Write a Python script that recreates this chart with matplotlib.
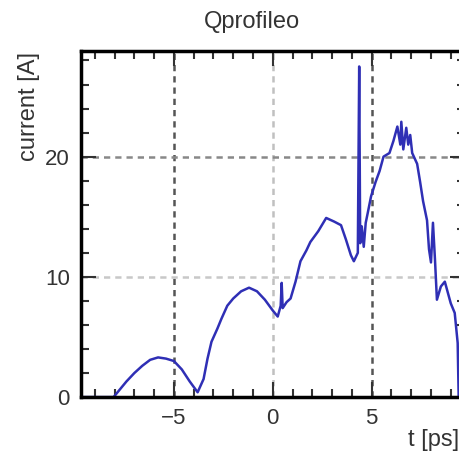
import numpy as np
import matplotlib
matplotlib.use("Agg")
import matplotlib.pyplot as plt
from matplotlib.ticker import MultipleLocator

# current profile, t in ps, current in A
t_ps = [-9.7, -8.05, -7.8, -7.4, -7.0, -6.6, -6.2, -5.8, -5.4, -5.0,
        -4.6, -4.2, -3.8, -3.5, -3.3, -3.1, -2.8, -2.6, -2.3, -2.0,
        -1.6, -1.2, -0.8, -0.4, 0.0, 0.25, 0.4, 0.45, 0.5, 0.7,
        0.9, 1.15, 1.4, 1.7, 1.9, 2.3, 2.7, 3.1, 3.45, 3.7,
        3.95, 4.1, 4.3, 4.37, 4.42, 4.5, 4.6, 4.7, 4.8, 4.97,
        5.2, 5.4, 5.6, 5.9, 6.1, 6.3, 6.45, 6.5, 6.6, 6.75,
        6.85, 6.95, 7.05, 7.3, 7.45, 7.6, 7.8, 7.9, 8.0, 8.1,
        8.2, 8.3, 8.5, 8.7, 9.0, 9.2, 9.35, 9.4]
current = [0.0, 0.0, 0.5, 1.3, 2.0, 2.6, 3.1, 3.3, 3.2, 3.0,
           2.3, 1.3, 0.4, 1.5, 3.2, 4.6, 5.7, 6.5, 7.6, 8.2,
           8.8, 9.1, 8.8, 8.1, 7.2, 6.7, 7.6, 9.5, 7.4, 7.9,
           8.2, 9.6, 11.3, 12.2, 12.9, 13.8, 14.9, 14.6, 14.3, 13.1,
           11.8, 11.3, 12.0, 27.5, 12.8, 14.2, 12.5, 14.5, 15.3, 16.7,
           17.9, 18.8, 20.0, 20.3, 21.3, 22.5, 21.0, 22.9, 20.6, 22.4,
           21.0, 21.8, 20.3, 19.4, 17.9, 16.3, 14.7, 12.3, 11.2, 14.5,
           11.5, 8.1, 9.2, 9.6, 7.8, 7.0, 4.5, 0.0]

font = "Liberation Sans"
txt = "#333333"

fig = plt.figure(figsize=(4.6, 4.58), dpi=100)
# frame runs just past the right edge of the canvas
ax = fig.add_axes([0.176, 0.133, 0.834, 0.756])

ax.plot(t_ps, current, color="#2f2fb5", lw=1.8)

ax.set_xlim(-9.7, 9.7)
ax.set_ylim(0, 28.8)

# grid lines
for xv, c in [(-5, "#555555"), (0, "#c0c0c0"), (5, "#555555")]:
    ax.axvline(xv, color=c, lw=1.8, ls=(0, (2.5, 2)), zorder=0)
for yv, c in [(10, "#c8c8c8"), (20, "#888888")]:
    ax.axhline(yv, color=c, lw=1.8, ls=(0, (2.5, 2)), zorder=0)

ax.xaxis.set_major_locator(MultipleLocator(5))
ax.xaxis.set_minor_locator(MultipleLocator(1))
ax.yaxis.set_major_locator(MultipleLocator(10))
ax.yaxis.set_minor_locator(MultipleLocator(2))
ax.tick_params(which="both", direction="in", top=True, right=True,
               width=1.5, color="#333333")
ax.tick_params(which="major", length=11, pad=8)
ax.tick_params(which="minor", length=6)

for side in ["left", "bottom", "top"]:
    ax.spines[side].set_linewidth(2.5)
ax.spines["right"].set_linewidth(1.5)

ax.set_xticks([-5, 0, 5])
ax.set_xticklabels(["\u22125", "0", "5"], fontfamily=font, fontsize=16, color=txt)
ax.set_yticks([0, 10, 20])
ax.set_yticklabels(["0", "10", "20"], fontfamily=font, fontsize=16, color=txt)

fig.text(0.548, 0.952, "Qprofileo", fontfamily=font, fontsize=17,
         ha="center", va="center", color=txt)
fig.text(0.062, 0.887, "current [A]", fontfamily=font, fontsize=17,
         rotation=90, ha="center", va="top", color=txt)
fig.text(0.998, 0.04, "t [ps]", fontfamily=font, fontsize=17,
         ha="right", va="center", color=txt)

fig.savefig("out.png", dpi=100)
